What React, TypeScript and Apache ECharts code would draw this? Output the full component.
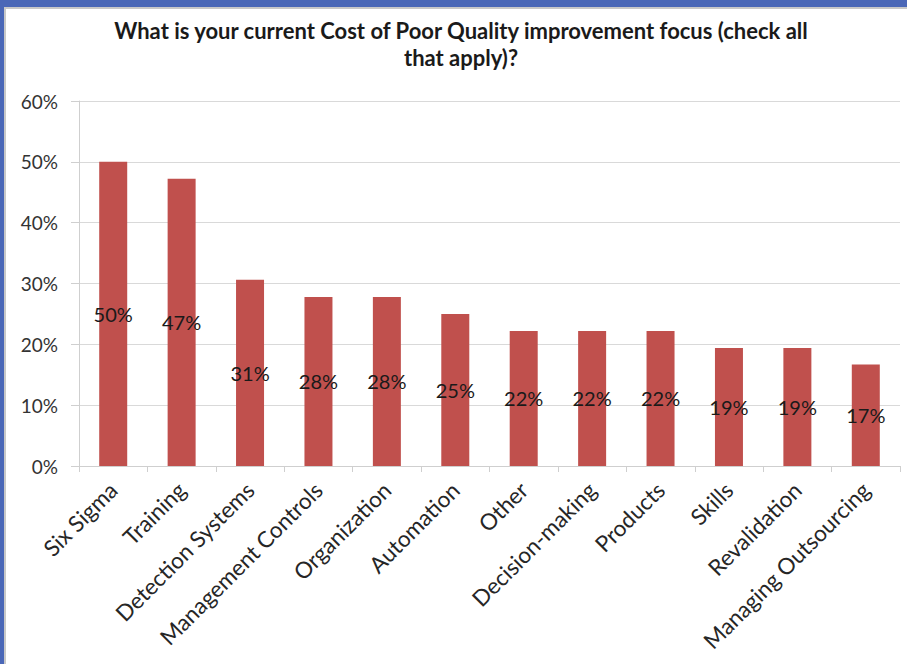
import React, { useEffect, useRef } from "react";
import * as echarts from "echarts";

const titleText = "What is your current Cost of Poor Quality improvement focus (check all\nthat apply)?";
const categories = [
  "Six Sigma",
  "Training",
  "Detection Systems",
  "Management Controls",
  "Organization",
  "Automation",
  "Other",
  "Decision-making",
  "Products",
  "Skills",
  "Revalidation",
  "Managing Outsourcing",
];
const values = [50, 47.2, 30.6, 27.8, 27.8, 25, 22.2, 22.2, 22.2, 19.4, 19.4, 16.7];
const yTicks = [0, 10, 20, 30, 40, 50, 60];

const FONT = "Lato, 'Open Sans', sans-serif";

export default function App() {
  const ref = useRef<HTMLDivElement>(null);
  useEffect(() => {
    if (!ref.current) return;
    const chart = echarts.init(ref.current, null, { renderer: "svg" });
    chart.setOption({
      animation: false,
      backgroundColor: "#ffffff",
      title: {
        text: titleText,
        left: 450,
        top: 3,
        textAlign: "center",
        textStyle: {
          fontFamily: FONT,
          fontSize: 22,
          fontWeight: "bold",
          color: "#1a1a1a",
          lineHeight: 27,
        },
      },
      grid: { left: 73, right: 7, top: 92, bottom: 198, containLabel: false },
      xAxis: {
        type: "category",
        data: categories,
        boundaryGap: true,
        axisLine: { show: true, lineStyle: { color: "#cfcfcf", width: 1 } },
        axisTick: { show: true, length: 6, lineStyle: { color: "#cfcfcf" }, alignWithLabel: false },
        axisLabel: {
          rotate: 45,
          interval: 0,
          margin: 20,
          fontFamily: FONT,
          fontSize: 22.5,
          color: "#262626",
        },
      },
      yAxis: {
        type: "value",
        min: yTicks[0],
        max: yTicks[yTicks.length - 1],
        interval: 10,
        axisLine: { show: true, lineStyle: { color: "#cfcfcf" } },
        axisTick: { show: true, length: 8, lineStyle: { color: "#cfcfcf" } },
        splitLine: { show: true, lineStyle: { color: "#d9d9d9", width: 1 } },
        axisLabel: {
          formatter: (v: number) => `${v}%`,
          fontFamily: FONT,
          fontSize: 19,
          color: "#333333",
          margin: 21,
        },
      },
      series: [
        {
          type: "bar",
          data: values,
          barWidth: 28,
          itemStyle: { color: "#c0504d" },
          label: {
            show: true,
            position: "inside",
            formatter: (p: any) => `${Math.round(p.value)}%`,
            fontFamily: FONT,
            fontSize: 20,
            color: "#1a1a1a",
          },
        },
      ],
    });
    return () => chart.dispose();
  }, []);

  return (
    <div
      style={{
        position: "fixed",
        left: 0,
        top: 0,
        width: 907,
        height: 664,
        background: "#4a67b7",
        overflow: "hidden",
      }}
    >
      <div
        style={{
          position: "absolute",
          left: 4,
          top: 7,
          width: 903,
          height: 657,
          background: "#c8c8c8",
        }}
      />
      <div
        ref={ref}
        style={{ position: "absolute", left: 6, top: 9, width: 901, height: 655 }}
      />
    </div>
  );
}
